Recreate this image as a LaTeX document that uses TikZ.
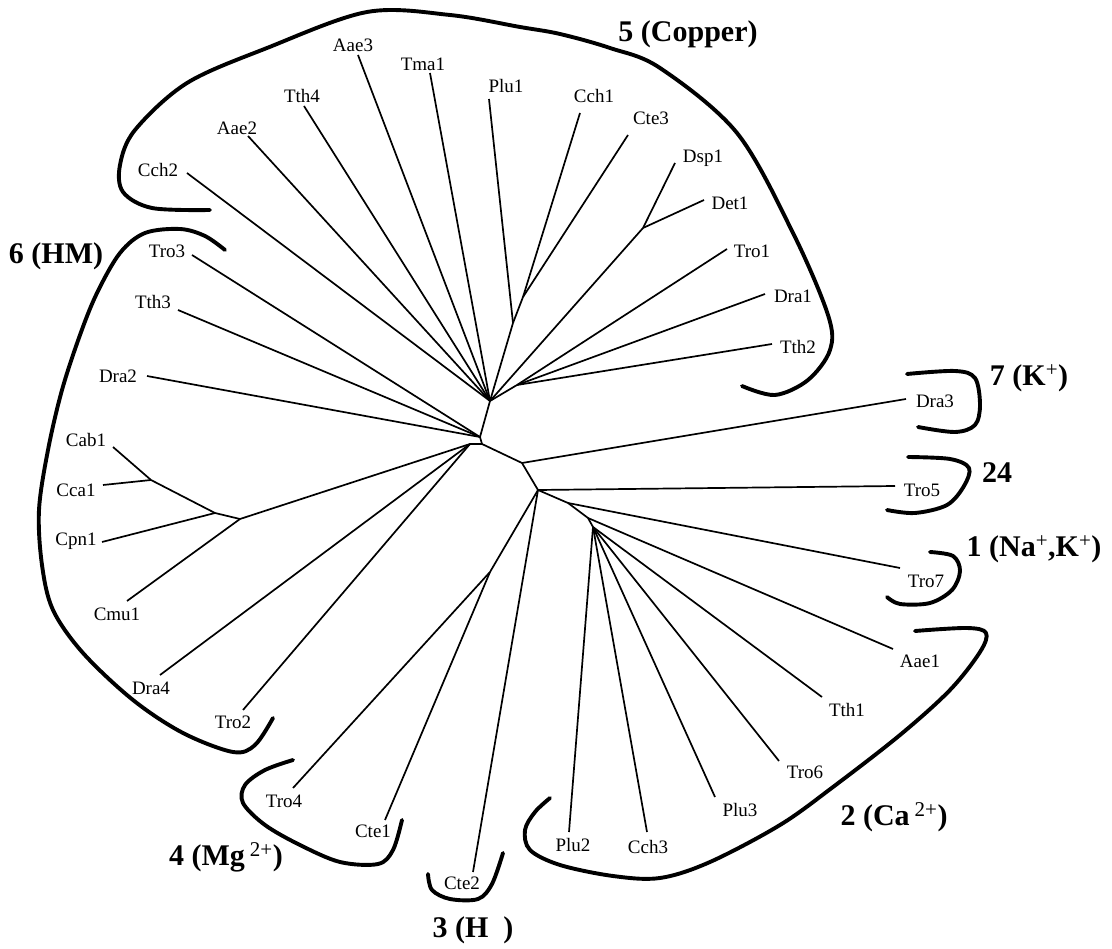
\documentclass[tikz,border=0pt]{standalone}
\usepackage{fontspec}
\setmainfont{Liberation Serif}
\begin{document}
\begin{tikzpicture}[x=1pt,y=-1pt,
 br/.style={line width=1.7pt},
 grp/.style={line width=3.9pt, line cap=round, line join=round},
 lab/.style={inner sep=0pt, font=\fontsize{19}{22}\selectfont},
 glab/.style={inner sep=0pt, font=\fontsize{30}{34}\selectfont\bfseries}]
\useasboundingbox (0,0) rectangle (1112,949);
% internal nodes
\coordinate (A) at (490,401);
\coordinate (B) at (480,437);
\coordinate (B2) at (482,444);
\coordinate (C) at (470,444);
\coordinate (D) at (522,463);
\coordinate (E) at (538,490);
\coordinate (F) at (568,503);
\coordinate (G) at (588,518);
\coordinate (H) at (593,527);
\coordinate (K) at (523,297);
\coordinate (L) at (513,323);
\coordinate (M) at (517,385);
\coordinate (Q) at (643,228);
\coordinate (N4) at (490,572);
\coordinate (R) at (151,480);
\coordinate (S) at (215,513);
\coordinate (T) at (240,519);
% leaf ends
\coordinate (eCch2) at (187,173);
\coordinate (eAae2) at (248,136);
\coordinate (eTth4) at (304,106);
\coordinate (eAae3) at (358,55);
\coordinate (eTma1) at (430,73);
\coordinate (ePlu1) at (489,99);
\coordinate (eCch1) at (580,113);
\coordinate (eCte3) at (628,135);
\coordinate (eDsp1) at (675,163);
\coordinate (eDet1) at (704,200);
\coordinate (eTro1) at (727,249);
\coordinate (eDra1) at (765,294);
\coordinate (eTth2) at (772,344);
\coordinate (eDra3) at (906,399);
\coordinate (eTro5) at (895,486);
\coordinate (eTro7) at (900,568);
\coordinate (eAae1) at (893,649);
\coordinate (eTth1) at (822,697);
\coordinate (eTro6) at (779,761);
\coordinate (ePlu3) at (715,797);
\coordinate (eCch3) at (647,832);
\coordinate (ePlu2) at (569,832);
\coordinate (eCte2) at (473,872);
\coordinate (eCte1) at (385,820);
\coordinate (eTro4) at (293,788);
\coordinate (eTro2) at (243,710);
\coordinate (eDra4) at (160,675);
\coordinate (eCmu1) at (127,601);
\coordinate (eCpn1) at (102,542);
\coordinate (eCca1) at (103,485);
\coordinate (eCab1) at (113,447);
\coordinate (eDra2) at (147,376);
\coordinate (eTth3) at (178,310);
\coordinate (eTro3) at (192,255);
% labels
\node[lab] (Cch2) at (158,170) {Cch2};
\node[lab] (Aae2) at (237,128) {Aae2};
\node[lab] (Tth4) at (302,96) {Tth4};
\node[lab] (Aae3) at (353,45) {Aae3};
\node[lab] (Tma1) at (423,64) {Tma1};
\node[lab] (Plu1) at (506,86) {Plu1};
\node[lab] (Cch1) at (594,96) {Cch1};
\node[lab] (Cte3) at (651,118) {Cte3};
\node[lab] (Dsp1) at (703,158) {Dsp1};
\node[lab] (Det1) at (730,203) {Det1};
\node[lab] (Tro1) at (752,251) {Tro1};
\node[lab] (Dra1) at (793,296) {Dra1};
\node[lab] (Tth2) at (798,347) {Tth2};
\node[lab] (Dra3) at (935,401) {Dra3};
\node[lab] (Tro5) at (922,490) {Tro5};
\node[lab] (Tro7) at (926,581) {Tro7};
\node[lab] (Aae1) at (920,661) {Aae1};
\node[lab] (Tth1) at (847,710) {Tth1};
\node[lab] (Tro6) at (805,772) {Tro6};
\node[lab] (Plu3) at (740,810) {Plu3};
\node[lab] (Cch3) at (648,847) {Cch3};
\node[lab] (Plu2) at (573,845) {Plu2};
\node[lab] (Cte2) at (462,883) {Cte2};
\node[lab] (Cte1) at (373,831) {Cte1};
\node[lab] (Tro4) at (284,801) {Tro4};
\node[lab] (Tro2) at (233,722) {Tro2};
\node[lab] (Dra4) at (151,688) {Dra4};
\node[lab] (Cmu1) at (117,614) {Cmu1};
\node[lab] (Cpn1) at (76,541) {Cpn1};
\node[lab] (Cca1) at (76,490) {Cca1};
\node[lab] (Cab1) at (86,440) {Cab1};
\node[lab] (Dra2) at (118,376) {Dra2};
\node[lab] (Tth3) at (153,302) {Tth3};
\node[lab] (Tro3) at (167,251) {Tro3};
% branches
\draw[br] (A) -- (B) -- (B2) -- (C);
\draw[br] (B2) -- (D) -- (E) -- (F) -- (G) -- (H);
\draw[br] (K) -- (L) -- (A);
\draw[br] (M) -- (A);
\draw[br] (Q) -- (A);
\draw[br] (N4) -- (E);
\draw[br] (R) -- (S) -- (T) -- (C);
\foreach \l in {Cch2,Aae2,Tth4,Aae3,Tma1} \draw[br] (e\l) -- (A);
\draw[br] (ePlu1) -- (L);
\draw[br] (eCch1) -- (K);
\draw[br] (eCte3) -- (K);
\draw[br] (eDsp1) -- (Q);
\draw[br] (eDet1) -- (Q);
\foreach \l in {Tro1,Dra1,Tth2} \draw[br] (e\l) -- (M);
\draw[br] (eDra3) -- (D);
\draw[br] (eTro5) -- (E);
\draw[br] (eCte2) -- (E);
\draw[br] (eTro7) -- (F);
\draw[br] (eAae1) -- (G);
\foreach \l in {Tth1,Tro6,Plu3,Cch3,Plu2} \draw[br] (e\l) -- (H);
\draw[br] (eCte1) -- (N4);
\draw[br] (eTro4) -- (N4);
\draw[br] (eTro2) -- (C);
\draw[br] (eDra4) -- (C);
\draw[br] (eCmu1) -- (T);
\draw[br] (eCpn1) -- (S);
\draw[br] (eCca1) -- (R);
\draw[br] (eCab1) -- (R);
\foreach \l in {Dra2,Tth3,Tro3} \draw[br] (e\l) -- (B);
% group brackets
\draw[grp] plot[smooth, tension=0.55] coordinates {(210,210) (152,208) (123,192) (120,165) (135,130) (187,83) (267,48) (367,12) (450,15) (520,27) (560,34) (610,48) (660,68) (737,133) (793,233) (828,315) (830,350) (808,380) (775,395) (742,386)};
\draw[grp] plot[smooth, tension=0.55] coordinates {(225,250) (205,236) (180,229) (145,233) (120,253) (97,293) (80,335) (62,390) (48,450) (39,510) (42,565) (53,610) (83,653) (133,700) (183,733) (233,752) (255,745) (273,718)};
\draw[grp] plot[smooth, tension=0.55] coordinates {(293,760) (265,770) (245,785) (243,803) (265,825) (300,845) (340,862) (378,864) (393,850) (402,820)};
\draw[grp] plot[smooth, tension=0.55] coordinates {(428,874) (432,890) (450,899) (478,899) (492,884) (503,853)};
\draw[grp] plot[smooth, tension=0.55] coordinates {(550,798) (535,812) (525,830) (530,850) (560,865) (613,876) (660,878) (710,862) (780,825) (833,787) (900,735) (950,690) (980,652) (986,633) (967,628) (915,631)};
\draw[grp] plot[smooth, tension=0.55] coordinates {(930,552) (953,556) (960,571) (952,590) (930,603) (900,604) (887,597)};
\draw[grp] plot[smooth, tension=0.55] coordinates {(908,457) (950,459) (969,468) (964,486) (947,505) (915,513) (887,510)};
\draw[grp] plot[smooth, tension=0.55] coordinates {(907,374) (955,371) (975,378) (980,405) (975,425) (955,432) (918,427)};
% group labels
\node[glab] (g5) at (688,34) {5 (Copper)};
\node[glab] (g6) at (56,256) {6 (HM)};
\node[glab] (g7) at (1029,378) {7 (K\textsuperscript{\mdseries +})};
\node[glab] (g24) at (997,473) {24};
\node[glab] (g1) at (1034,549) {1 (Na\textsuperscript{\mdseries +},K\textsuperscript{\mdseries +})};
\node[glab] (g2) at (894,817) {2 (Ca\,\textsuperscript{\mdseries 2+})};
\node[glab] (g4) at (226,857) {4 (Mg\,\textsuperscript{\mdseries 2+})};
\node[glab] (g3) at (473,930) {3 (H\hspace{15pt})};
\end{tikzpicture}
\end{document}
